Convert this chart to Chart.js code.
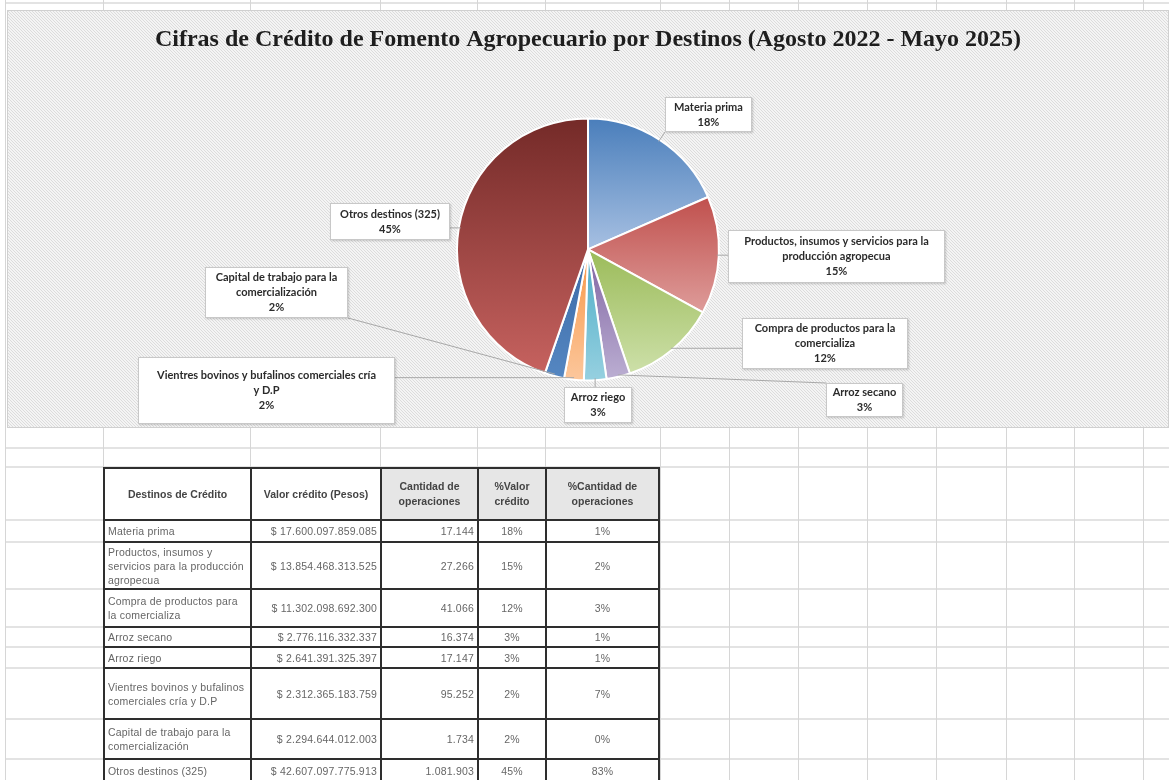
<!DOCTYPE html>
<html lang="es">
<head>
<meta charset="utf-8">
<title>Cifras de Crédito de Fomento Agropecuario por Destinos</title>
<script src="https://cdn.jsdelivr.net/npm/chart.js@4.4.1/dist/chart.umd.min.js"></script>
<style>
    html, body { margin: 0; padding: 0; background: #fff; }
    body { width: 1169px; height: 780px; position: relative; overflow: hidden; font-family: 'Liberation Sans', Arial, sans-serif; }
    #grid { position: absolute; left: 0; top: 0; }
    #chartBox { position: absolute; left: 7px; top: 10px; width: 1162px; height: 418px; }
    #tabla { position: absolute; left: 103px; top: 467px; border-collapse: collapse; table-layout: fixed; font-size: 10.5px; color: #666; }
    #tabla td, #tabla th { border: 2px solid #2e2e2e; padding: 0 3px; vertical-align: middle; overflow: hidden; }
    #tabla th { font-weight: bold; color: #444; white-space: pre-line; line-height: 15px; }
    #tabla th.gris { background: #e6e6e6; }
    #tabla td { line-height: 14px; letter-spacing: 0.2px; }
    #tabla td.num { text-align: right; }
    #tabla td.cen { text-align: center; }
</style>
</head>
<body>
<canvas id="grid" width="1169" height="780"></canvas>
<div id="chartBox"><canvas id="pieChart"></canvas></div>
<table id="tabla"></table>

<script>
// Datos
const destinos = [
    'Materia prima',
    'Productos, insumos y servicios para la producción agropecua',
    'Compra de productos para la comercializa',
    'Arroz secano',
    'Arroz riego',
    'Vientres bovinos y bufalinos comerciales cría y D.P',
    'Capital de trabajo para la comercialización',
    'Otros destinos (325)'
];
const valorCredito = [17600097859085, 13854468313525, 11302098692300, 2776116332337, 2641391325397, 2312365183759, 2294644012003, 42607097775913];
const cantidadOperaciones = [17144, 27266, 41066, 16374, 17147, 95252, 1734, 1081903];
const pctValorCredito = [18, 15, 12, 3, 3, 2, 2, 45];
const pctCantidadOperaciones = [1, 2, 3, 1, 1, 7, 0, 83];
const encabezados = ['Destinos de Crédito', 'Valor crédito (Pesos)', 'Cantidad de\noperaciones', '%Valor\ncrédito', '%Cantidad de\noperaciones'];

const tituloGrafico = 'Cifras de Crédito de Fomento Agropecuario por Destinos (Agosto 2022 - Mayo 2025)';

// colores de degradado (arriba -> abajo), estilo Excel
const coloresArriba = ['#4a7ebb', '#c0504d', '#9bbb59', '#8064a2', '#4bacc6', '#f79646', '#3b69a5', '#742a28'];
const coloresAbajo = ['#a7c0e2', '#de9c9a', '#cde0a9', '#bbaed2', '#96d0e0', '#fcc79c', '#5587c2', '#c6625f'];

// cajas de etiquetas (coordenadas del canvas) y ancho de ajuste del texto
const cajas = [
    { x: 658, y: 87, w: 87, h: 35, ajuste: 80 },
    { x: 721, y: 220, w: 217, h: 53, ajuste: 209 },
    { x: 735, y: 308, w: 166, h: 51, ajuste: 158 },
    { x: 819, y: 373, w: 77, h: 34, ajuste: 70 },
    { x: 557, y: 377, w: 68, h: 36, ajuste: 62 },
    { x: 131, y: 347, w: 257, h: 67, ajuste: 223 },
    { x: 198, y: 257, w: 143, h: 51, ajuste: 135 },
    { x: 323, y: 193, w: 120, h: 37, ajuste: 112 }
];

document.addEventListener('DOMContentLoaded', function () {
    drawGrid();
    buildTable();
    drawChart();
});

function drawGrid() {
    const ctx = document.getElementById('grid').getContext('2d');
    const columnas = [5, 103, 250, 380, 477, 545, 660, 729, 798, 867, 936, 1006, 1074, 1143];
    const filas = [3, 448, 467, 520, 542, 589, 627, 647, 668, 719, 759];

    ctx.strokeStyle = '#e3e3e3';
    ctx.lineWidth = 2;
    filas.forEach(y => {
        ctx.beginPath();
        ctx.moveTo(5, y);
        ctx.lineTo(1169, y);
        ctx.stroke();
    });
    ctx.strokeStyle = '#d6d6d6';
    ctx.lineWidth = 1;
    columnas.forEach(x => {
        ctx.beginPath();
        ctx.moveTo(x + 0.5, 0);
        ctx.lineTo(x + 0.5, 780);
        ctx.stroke();
    });
}

function formatoMiles(n) {
    return String(n).replace(/\B(?=(\d{3})+(?!\d))/g, '.');
}

function buildTable() {
    const tabla = document.getElementById('tabla');
    const anchos = [147, 130, 97, 68, 113];
    const alturas = [22, 47, 38, 20, 21, 51, 40, 23];

    const colgroup = document.createElement('colgroup');
    anchos.forEach(w => {
        const col = document.createElement('col');
        col.style.width = w + 'px';
        colgroup.appendChild(col);
    });
    tabla.appendChild(colgroup);

    const cabecera = document.createElement('tr');
    cabecera.style.height = '52px';
    encabezados.forEach((texto, i) => {
        const th = document.createElement('th');
        th.textContent = texto;
        if (i >= 2) th.className = 'gris';
        cabecera.appendChild(th);
    });
    tabla.appendChild(cabecera);

    destinos.forEach((destino, i) => {
        const tr = document.createElement('tr');
        tr.style.height = alturas[i] + 'px';
        const celdas = [
            [destino, ''],
            ['$ ' + formatoMiles(valorCredito[i]), 'num'],
            [formatoMiles(cantidadOperaciones[i]), 'num'],
            [pctValorCredito[i] + '%', 'cen'],
            [pctCantidadOperaciones[i] + '%', 'cen']
        ];
        celdas.forEach(([texto, clase]) => {
            const td = document.createElement('td');
            td.textContent = texto;
            if (clase) td.className = clase;
            tr.appendChild(td);
        });
        tabla.appendChild(tr);
    });
}

function partirTexto(ctx, texto, ancho) {
    const palabras = texto.split(' ');
    const lineas = [];
    let actual = '';
    palabras.forEach(p => {
        const prueba = actual ? actual + ' ' + p : p;
        if (ctx.measureText(prueba).width > ancho && actual) {
            lineas.push(actual);
            actual = p;
        } else {
            actual = prueba;
        }
    });
    if (actual) lineas.push(actual);
    return lineas;
}

// fondo con rayado diagonal y borde del area del grafico
const fondoRayado = {
    id: 'fondoRayado',
    beforeDraw(chart) {
        const { ctx, width, height } = chart;
        const tile = document.createElement('canvas');
        tile.width = 3;
        tile.height = 3;
        const t = tile.getContext('2d');
        t.fillStyle = '#f4f4f4';
        t.fillRect(0, 0, 3, 3);
        t.fillStyle = '#dcdcdc';
        for (let i = 0; i < 3; i++) t.fillRect(i, i, 1, 1);
        ctx.save();
        ctx.fillStyle = ctx.createPattern(tile, 'repeat');
        ctx.fillRect(0, 0, width, height);
        ctx.strokeStyle = '#d0d0d0';
        ctx.lineWidth = 1;
        ctx.strokeRect(0.5, 0.5, width - 1, height - 1);
        ctx.restore();
    }
};

// degradado vertical por porcion
const degradado = {
    id: 'degradado',
    beforeDatasetsDraw(chart) {
        const ctx = chart.ctx;
        chart.getDatasetMeta(0).data.forEach((arc, i) => {
            const { x, y, startAngle, endAngle, outerRadius } = arc.getProps(['x', 'y', 'startAngle', 'endAngle', 'outerRadius'], true);
            let minY = y, maxY = y;
            for (let k = 0; k <= 40; k++) {
                const a = startAngle + (endAngle - startAngle) * k / 40;
                const py = y + outerRadius * Math.sin(a);
                minY = Math.min(minY, py);
                maxY = Math.max(maxY, py);
            }
            const g = ctx.createLinearGradient(0, minY, 0, maxY);
            g.addColorStop(0, coloresArriba[i]);
            g.addColorStop(1, coloresAbajo[i]);
            arc.options = Object.assign({}, arc.options, { backgroundColor: g });
        });
    }
};

// etiquetas tipo llamada con lineas guia
const llamadas = {
    id: 'llamadas',
    afterDatasetsDraw(chart) {
        const ctx = chart.ctx;
        const arcs = chart.getDatasetMeta(0).data;
        ctx.save();
        ctx.font = 'bold 11px Lato, "Open Sans", sans-serif';

        // lineas guia
        ctx.strokeStyle = '#a8a8a8';
        ctx.lineWidth = 1;
        arcs.forEach((arc, i) => {
            const { x, y, startAngle, endAngle, outerRadius } = arc.getProps(['x', 'y', 'startAngle', 'endAngle', 'outerRadius'], true);
            const mid = (startAngle + endAngle) / 2;
            const ax = x + (outerRadius - 2) * Math.cos(mid);
            const ay = y + (outerRadius - 2) * Math.sin(mid);
            const c = cajas[i];
            const bx = Math.min(Math.max(ax, c.x), c.x + c.w);
            const by = Math.min(Math.max(ay, c.y), c.y + c.h);
            ctx.beginPath();
            ctx.moveTo(ax, ay);
            ctx.lineTo(bx, by);
            ctx.stroke();
        });

        // cajas y texto
        arcs.forEach((arc, i) => {
            const c = cajas[i];
            ctx.save();
            ctx.shadowColor = 'rgba(0,0,0,0.18)';
            ctx.shadowBlur = 2;
            ctx.shadowOffsetX = 1;
            ctx.shadowOffsetY = 1;
            ctx.fillStyle = '#ffffff';
            ctx.fillRect(c.x, c.y, c.w, c.h);
            ctx.restore();
            ctx.strokeStyle = '#c8c8c8';
            ctx.strokeRect(c.x + 0.5, c.y + 0.5, c.w - 1, c.h - 1);

            const lineas = partirTexto(ctx, destinos[i], c.ajuste);
            lineas.push(pctValorCredito[i] + '%');
            const alto = 15;
            const y0 = c.y + c.h / 2 - (lineas.length - 1) * alto / 2;
            ctx.fillStyle = '#2b2b2b';
            ctx.textAlign = 'center';
            ctx.textBaseline = 'middle';
            lineas.forEach((l, k) => ctx.fillText(l, c.x + c.w / 2, y0 + k * alto));
        });
        ctx.restore();
    }
};

function drawChart() {
    const ctx = document.getElementById('pieChart').getContext('2d');
    new Chart(ctx, {
        type: 'pie',
        data: {
            labels: destinos,
            datasets: [{
                data: valorCredito,
                backgroundColor: coloresArriba,
                borderColor: '#ffffff',
                borderWidth: 2,
                radius: 131,
                hoverOffset: 0
            }]
        },
        options: {
            responsive: true,
            maintainAspectRatio: false,
            animation: false,
            events: [],
            layout: {
                padding: { top: 9, bottom: 0 }
            },
            plugins: {
                legend: { display: false },
                tooltip: { enabled: false },
                title: {
                    display: true,
                    text: tituloGrafico,
                    color: '#1e1e1e',
                    font: { family: '"Liberation Serif", serif', size: 24, weight: 'bold' },
                    padding: { top: 6, bottom: 17 }
                }
            }
        },
        plugins: [fondoRayado, degradado, llamadas]
    });
}
</script>
</body>
</html>
